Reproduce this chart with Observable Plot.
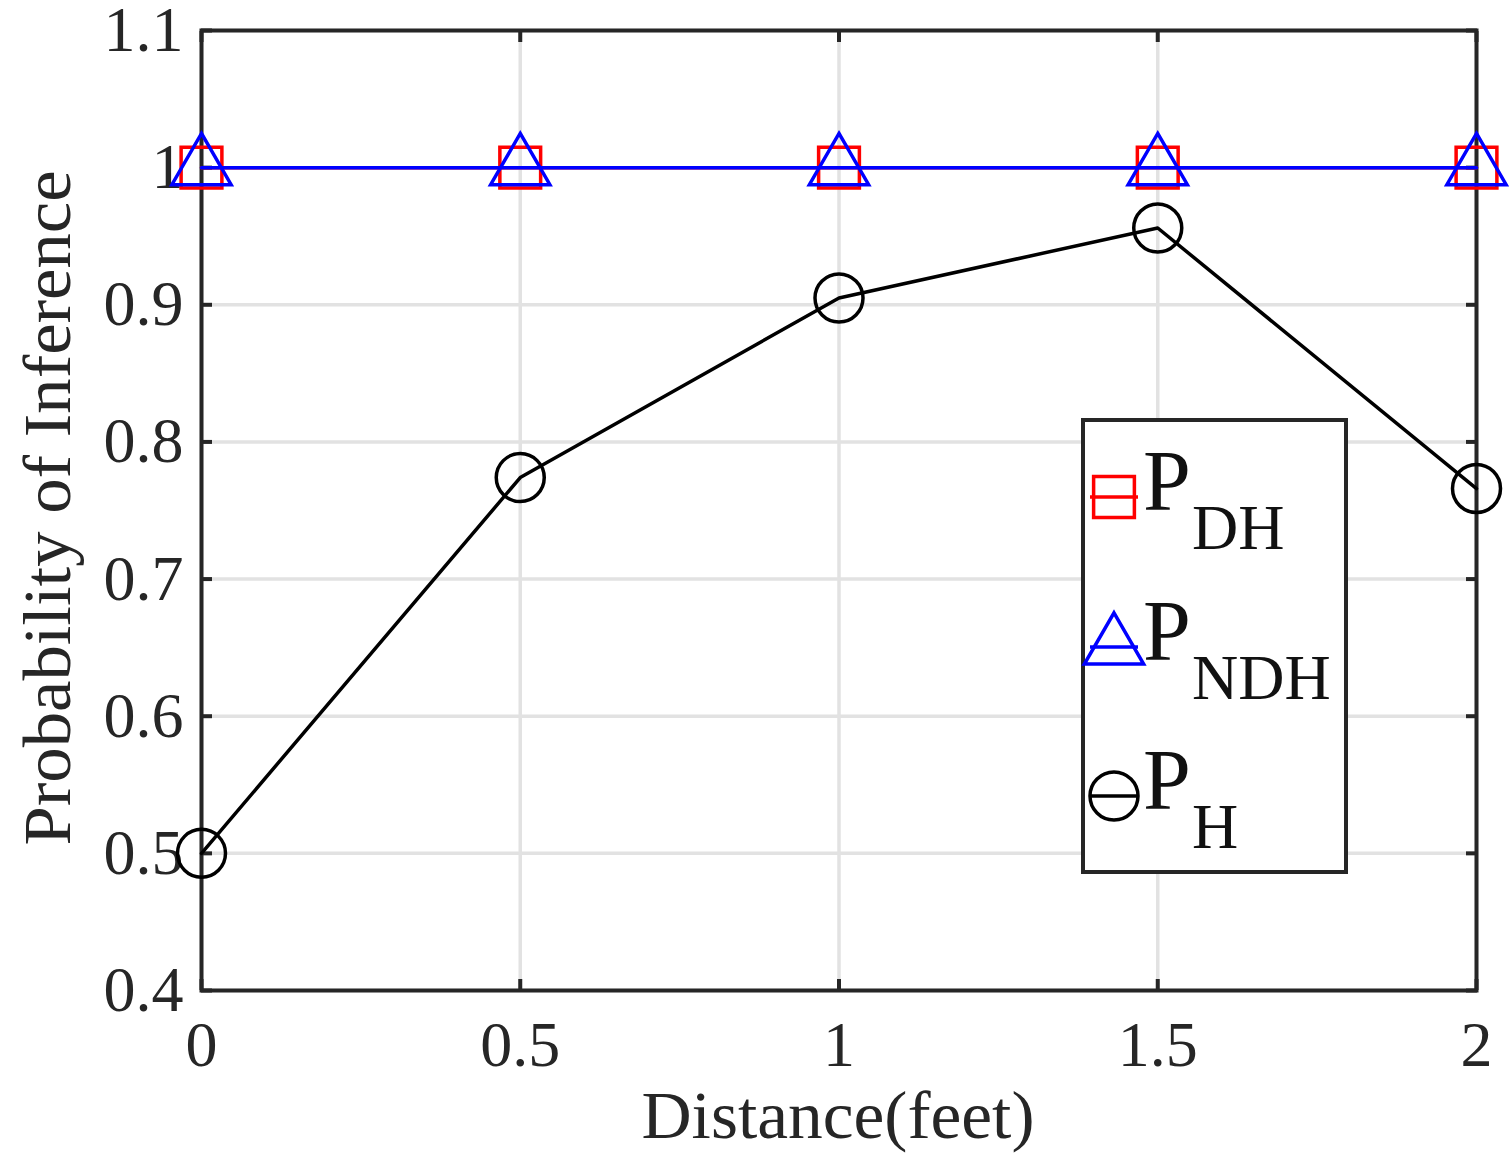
<!DOCTYPE html>
<html>
<head>
<meta charset="utf-8">
<script src="https://cdn.jsdelivr.net/npm/d3@7"></script>
<script src="https://cdn.jsdelivr.net/npm/@observablehq/plot@0.6"></script>
<style>
  html, body { margin: 0; padding: 0; background: #fff; }
  svg { display: block; }
</style>
</head>
<body>
<div id="chart"></div>
<script>
// ---- data ----
const distance = [0, 0.5, 1, 1.5, 2];
const pDH  = [1, 1, 1, 1, 1];
const pNDH = [1, 1, 1, 1, 1];
const pH   = [0.5, 0.774, 0.905, 0.956, 0.766];
const xTicks = [0, 0.5, 1, 1.5, 2];
const xTickLabels = ["0", "0.5", "1", "1.5", "2"];
const yTicks = [0.4, 0.5, 0.6, 0.7, 0.8, 0.9, 1.0, 1.1];
const yTickLabels = ["0.4", "0.5", "0.6", "0.7", "0.8", "0.9", "1", "1.1"];
const seriesNames = ["DH", "NDH", "H"];
const xLabel = "Distance(feet)";
const yLabel = "Probability of Inference";

const rows = (ys) => distance.map((d, i) => ({x: d, y: ys[i]}));
const dh = rows(pDH), ndh = rows(pNDH), h = rows(pH);

const axisColor = "#262626";
const gridColor = "#e2e2e2";
const font = "Liberation Serif, Times New Roman, serif";
const noText = () => "";
const lw = 3.5;

const svg = Plot.plot({
  width: 1509,
  height: 1154,
  marginLeft: 201,
  marginRight: 33,
  marginTop: 30,
  marginBottom: 164,
  style: {fontFamily: font, background: "white", color: axisColor, overflow: "visible"},
  x: {domain: [0, 2], label: null},
  y: {domain: [0.4, 1.1], label: null},
  marks: [
    Plot.gridX(xTicks, {stroke: gridColor, strokeOpacity: 1, strokeWidth: 3.5}),
    Plot.gridY(yTicks, {stroke: gridColor, strokeOpacity: 1, strokeWidth: 3.5}),
    // inward ticks on all four sides
    Plot.axisX(xTicks, {anchor: "bottom", tickSize: 11, dy: -11, tickFormat: noText, label: null, stroke: axisColor, strokeWidth: 4}),
    Plot.axisX(xTicks, {anchor: "top", tickSize: 11, dy: 11, tickFormat: noText, label: null, stroke: axisColor, strokeWidth: 4}),
    Plot.axisY(yTicks, {anchor: "left", tickSize: 11, dx: 11, tickFormat: noText, label: null, stroke: axisColor, strokeWidth: 4}),
    Plot.axisY(yTicks, {anchor: "right", tickSize: 11, dx: -11, tickFormat: noText, label: null, stroke: axisColor, strokeWidth: 4}),
    // tick labels
    Plot.axisX(xTicks, {anchor: "bottom", tickSize: 0, tickPadding: 30, fontSize: 64,
      tickFormat: (d, i) => xTickLabels[i], fill: axisColor, label: null}),
    Plot.axisY(yTicks, {anchor: "left", tickSize: 0, tickPadding: 18, fontSize: 64,
      tickFormat: (d, i) => yTickLabels[i], fill: axisColor, label: null}),
    Plot.frame({stroke: axisColor, strokeWidth: 4}),
    // series
    Plot.line(dh, {x: "x", y: "y", stroke: "#ff0000", strokeWidth: lw}),
    Plot.dot(dh, {x: "x", y: "y", symbol: "square", r: 23, stroke: "#ff0000", fill: "none", strokeWidth: lw}),
    Plot.line(ndh, {x: "x", y: "y", stroke: "#0000ff", strokeWidth: lw}),
    Plot.dot(ndh, {x: "x", y: "y", symbol: "triangle", r: 22, stroke: "#0000ff", fill: "none", strokeWidth: lw}),
    Plot.line(h, {x: "x", y: "y", stroke: "#000000", strokeWidth: lw}),
    Plot.dot(h, {x: "x", y: "y", symbol: "circle", r: 24, stroke: "#000000", fill: "none", strokeWidth: lw})
  ]
});

const s = d3.select(svg);
// axis titles
s.append("text")
  .attr("x", 838).attr("y", 1138)
  .attr("text-anchor", "middle")
  .attr("font-family", font).attr("font-size", 68)
  .attr("fill", axisColor)
  .attr("textLength", 393).attr("lengthAdjust", "spacingAndGlyphs")
  .text(xLabel);
s.append("text")
  .attr("transform", "translate(70,508) rotate(-90)")
  .attr("text-anchor", "middle")
  .attr("font-family", font).attr("font-size", 68)
  .attr("fill", axisColor)
  .attr("textLength", 675).attr("lengthAdjust", "spacingAndGlyphs")
  .text(yLabel);

// legend
const lg = s.append("g").attr("text-anchor", "start");
lg.append("rect").attr("x", 1083).attr("y", 420).attr("width", 263).attr("height", 452)
  .attr("fill", "white").attr("stroke", axisColor).attr("stroke-width", 4);
const entries = [
  {name: seriesNames[0], color: "#ff0000", sym: d3.symbolSquare, r: 23, cy: 497},
  {name: seriesNames[1], color: "#0000ff", sym: d3.symbolTriangle, r: 22, cy: 647},
  {name: seriesNames[2], color: "#000000", sym: d3.symbolCircle, r: 24, cy: 796}
];
entries.forEach(e => {
  lg.append("line").attr("x1", 1090).attr("x2", 1138).attr("y1", e.cy).attr("y2", e.cy)
    .attr("stroke", e.color).attr("stroke-width", lw);
  lg.append("path").attr("transform", `translate(1114,${e.cy})`)
    .attr("d", d3.symbol(e.sym, Math.PI * e.r * e.r)())
    .attr("fill", "none").attr("stroke", e.color).attr("stroke-width", lw);
  lg.append("text").attr("x", 1143).attr("y", e.cy + 13)
    .attr("text-anchor", "start")
    .attr("font-family", font).attr("font-size", 86).attr("fill", "#111")
    .text("P");
  lg.append("text").attr("x", 1192).attr("y", e.cy + 52)
    .attr("text-anchor", "start")
    .attr("font-family", font).attr("font-size", 64).attr("fill", "#111")
    .text(e.name);
});

document.getElementById("chart").appendChild(svg);
</script>
</body>
</html>
